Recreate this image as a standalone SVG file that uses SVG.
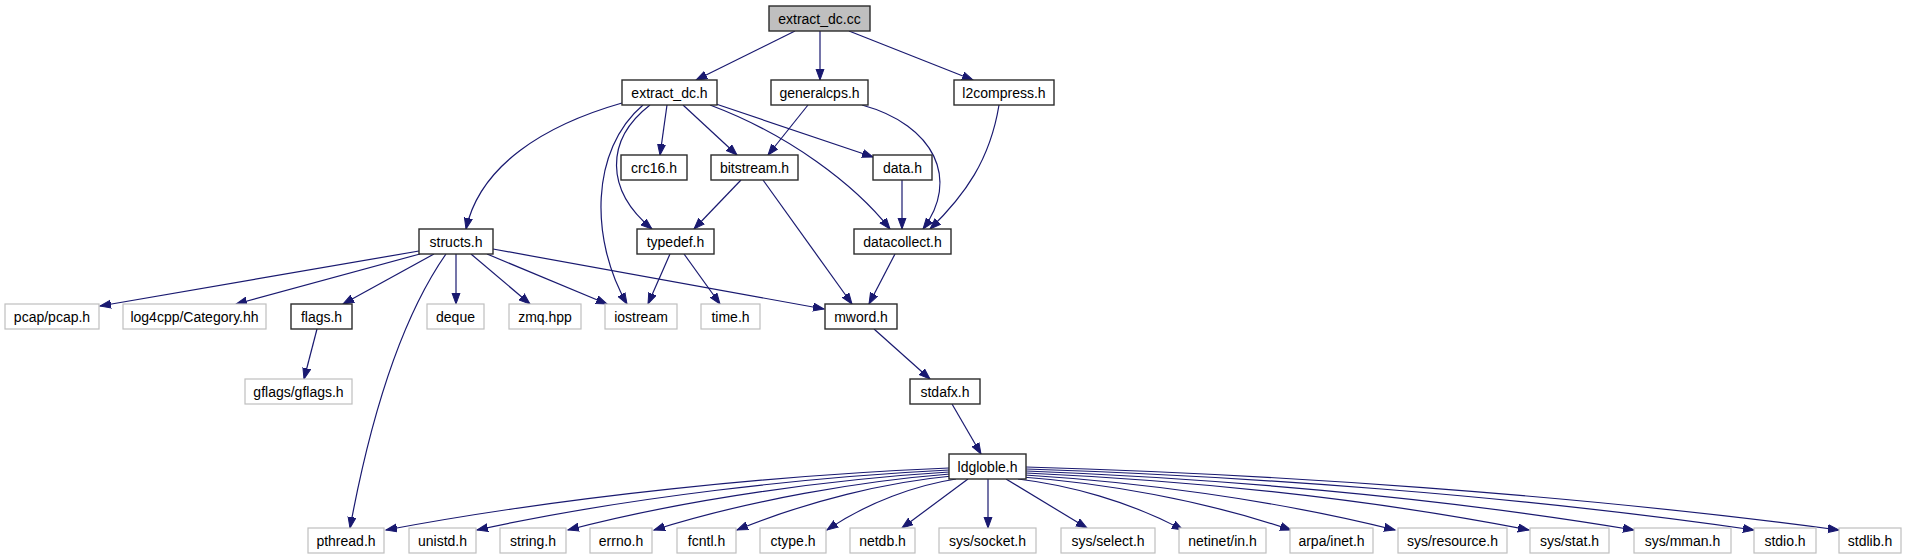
<svg xmlns="http://www.w3.org/2000/svg" width="1909" height="560" viewBox="0 0 1909 560">
<style>
.n rect{fill:#fff;stroke:#2b2b2b;stroke-width:1.4}
.g rect{fill:#fff;stroke:#bfbfbf;stroke-width:1.2}
.root rect{fill:#bfbfbf;stroke:#2b2b2b;stroke-width:1.4}
text{font-family:"Liberation Sans",Arial,Helvetica,sans-serif;font-size:14px;fill:#000;text-anchor:middle}
.e path{fill:none;stroke:#191970;stroke-width:1.2;marker-end:url(#arr)}
</style>
<defs>
<marker id="arr" markerWidth="13" markerHeight="10" refX="11" refY="4.5" orient="auto" markerUnits="userSpaceOnUse">
<path d="M0,0.5 L11,4.5 L0,8.5 z" fill="#191970" stroke="#191970" stroke-width="1"/>
</marker>
</defs>
<rect width="1909" height="560" fill="#fff"/>
<g id="edges" class="e">
<path d="M795,31 L696,80"/>
<path d="M820,31 L820,80"/>
<path d="M849,31 L973,80"/>
<path d="M622,103 C545,125 480,165 466,229"/>
<path d="M643,105 C590,150 590,240 627,304"/>
<path d="M650,105 C605,140 605,190 652,229"/>
<path d="M667,105 L660,155"/>
<path d="M683,105 L737,155"/>
<path d="M716,104 L873,157"/>
<path d="M710,105 C790,135 855,185 890,229"/>
<path d="M808,105 L768,155"/>
<path d="M862,105 C935,125 960,180 923,229"/>
<path d="M999,105 C990,160 965,195 930,229"/>
<path d="M902,180 L902,229"/>
<path d="M741,180 L694,229"/>
<path d="M763,180 L852,304"/>
<path d="M895,254 L869,304"/>
<path d="M670,254 L648,304"/>
<path d="M684,254 L720,304"/>
<path d="M419,251 L100,306"/>
<path d="M420,254 L236,304"/>
<path d="M434,254 L343,304"/>
<path d="M446,254 C400,320 370,420 350,528"/>
<path d="M456,254 L456,304"/>
<path d="M471,254 L530,304"/>
<path d="M487,254 L607,304"/>
<path d="M493,249 L824,309"/>
<path d="M317,329 L304,379"/>
<path d="M874,329 L930,379"/>
<path d="M952,404 L981,454"/>
<path d="M949,468 C780,475 566,496 386,530"/>
<path d="M949,470 C808,477 628,497 477,530"/>
<path d="M949,472 C835,479 690,498 568,530"/>
<path d="M950,474 C861,481 749,500 654,530"/>
<path d="M952,476 C887,482 808,501 737,530"/>
<path d="M956,479 C917,485 868,502 827,530"/>
<path d="M968,479 L902,528"/>
<path d="M988,479 L988,528"/>
<path d="M1006,479 L1087,528"/>
<path d="M1018,479 C1068,485 1129,501 1183,530"/>
<path d="M1022,477 C1103,483 1203,500 1291,530"/>
<path d="M1025,475 C1136,482 1271,499 1395,530"/>
<path d="M1026,473 C1177,480 1360,497 1529,530"/>
<path d="M1026,471 C1208,478 1431,496 1634,530"/>
<path d="M1026,469 C1244,476 1513,495 1754,530"/>
<path d="M1026,467 C1270,474 1570,494 1839,530"/>
</g>
<g id="node-extract_dc_cc" class="root"><rect x="769" y="6" width="101" height="25"/><text x="819.5" y="23.5">extract_dc.cc</text></g>
<g id="node-extract_dc_h" class="n"><rect x="622" y="80" width="95" height="25"/><text x="669.5" y="97.5">extract_dc.h</text></g>
<g id="node-generalcps_h" class="n"><rect x="771" y="80" width="97" height="25"/><text x="819.5" y="97.5">generalcps.h</text></g>
<g id="node-l2compress_h" class="n"><rect x="954" y="80" width="100" height="25"/><text x="1004" y="97.5">l2compress.h</text></g>
<g id="node-crc16_h" class="n"><rect x="621" y="155" width="66" height="25"/><text x="654" y="172.5">crc16.h</text></g>
<g id="node-bitstream_h" class="n"><rect x="711" y="155" width="87" height="25"/><text x="754.5" y="172.5">bitstream.h</text></g>
<g id="node-data_h" class="n"><rect x="873" y="155" width="59" height="25"/><text x="902.5" y="172.5">data.h</text></g>
<g id="node-structs_h" class="n"><rect x="419" y="229" width="74" height="25"/><text x="456" y="246.5">structs.h</text></g>
<g id="node-typedef_h" class="n"><rect x="637" y="229" width="77" height="25"/><text x="675.5" y="246.5">typedef.h</text></g>
<g id="node-datacollect_h" class="n"><rect x="854" y="229" width="97" height="25"/><text x="902.5" y="246.5">datacollect.h</text></g>
<g id="node-pcap_h" class="g"><rect x="5" y="304" width="94" height="25"/><text x="52" y="321.5">pcap/pcap.h</text></g>
<g id="node-log4cpp" class="g"><rect x="123" y="304" width="143" height="25"/><text x="194.5" y="321.5">log4cpp/Category.hh</text></g>
<g id="node-flags_h" class="n"><rect x="291" y="304" width="61" height="25"/><text x="321.5" y="321.5">flags.h</text></g>
<g id="node-deque" class="g"><rect x="427" y="304" width="57" height="25"/><text x="455.5" y="321.5">deque</text></g>
<g id="node-zmq_hpp" class="g"><rect x="509" y="304" width="72" height="25"/><text x="545" y="321.5">zmq.hpp</text></g>
<g id="node-iostream" class="g"><rect x="605" y="304" width="72" height="25"/><text x="641" y="321.5">iostream</text></g>
<g id="node-time_h" class="g"><rect x="701" y="304" width="59" height="25"/><text x="730.5" y="321.5">time.h</text></g>
<g id="node-mword_h" class="n"><rect x="825" y="304" width="72" height="25"/><text x="861" y="321.5">mword.h</text></g>
<g id="node-gflags_h" class="g"><rect x="245" y="379" width="107" height="25"/><text x="298.5" y="396.5">gflags/gflags.h</text></g>
<g id="node-stdafx_h" class="n"><rect x="910" y="379" width="70" height="25"/><text x="945" y="396.5">stdafx.h</text></g>
<g id="node-ldgloble_h" class="n"><rect x="949" y="454" width="77" height="25"/><text x="987.5" y="471.5">ldgloble.h</text></g>
<g id="node-pthread_h" class="g"><rect x="308" y="528" width="76" height="25"/><text x="346" y="545.5">pthread.h</text></g>
<g id="node-unistd_h" class="g"><rect x="409" y="528" width="67" height="25"/><text x="442.5" y="545.5">unistd.h</text></g>
<g id="node-string_h" class="g"><rect x="500" y="528" width="66" height="25"/><text x="533" y="545.5">string.h</text></g>
<g id="node-errno_h" class="g"><rect x="590" y="528" width="62" height="25"/><text x="621" y="545.5">errno.h</text></g>
<g id="node-fcntl_h" class="g"><rect x="677" y="528" width="59" height="25"/><text x="706.5" y="545.5">fcntl.h</text></g>
<g id="node-ctype_h" class="g"><rect x="760" y="528" width="66" height="25"/><text x="793" y="545.5">ctype.h</text></g>
<g id="node-netdb_h" class="g"><rect x="850" y="528" width="65" height="25"/><text x="882.5" y="545.5">netdb.h</text></g>
<g id="node-sys_socket_h" class="g"><rect x="939" y="528" width="97" height="25"/><text x="987.5" y="545.5">sys/socket.h</text></g>
<g id="node-sys_select_h" class="g"><rect x="1061" y="528" width="94" height="25"/><text x="1108" y="545.5">sys/select.h</text></g>
<g id="node-netinet_in_h" class="g"><rect x="1179" y="528" width="87" height="25"/><text x="1222.5" y="545.5">netinet/in.h</text></g>
<g id="node-arpa_inet_h" class="g"><rect x="1290" y="528" width="83" height="25"/><text x="1331.5" y="545.5">arpa/inet.h</text></g>
<g id="node-sys_resource_h" class="g"><rect x="1398" y="528" width="109" height="25"/><text x="1452.5" y="545.5">sys/resource.h</text></g>
<g id="node-sys_stat_h" class="g"><rect x="1530" y="528" width="79" height="25"/><text x="1569.5" y="545.5">sys/stat.h</text></g>
<g id="node-sys_mman_h" class="g"><rect x="1634" y="528" width="97" height="25"/><text x="1682.5" y="545.5">sys/mman.h</text></g>
<g id="node-stdio_h" class="g"><rect x="1754" y="528" width="62" height="25"/><text x="1785" y="545.5">stdio.h</text></g>
<g id="node-stdlib_h" class="g"><rect x="1839" y="528" width="62" height="25"/><text x="1870" y="545.5">stdlib.h</text></g>
</svg>
